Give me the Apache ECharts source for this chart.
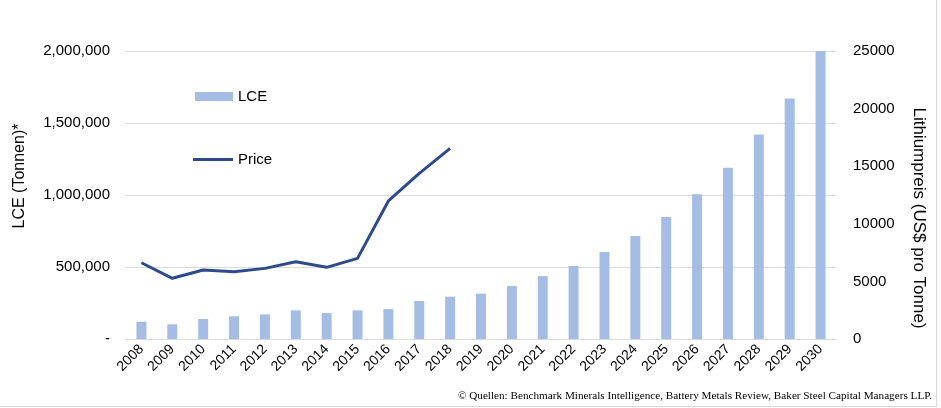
<!DOCTYPE html>
<html><head><meta charset="utf-8">
<script src="https://cdn.jsdelivr.net/npm/echarts@6/dist/echarts.min.js"></script>
<style>html,body{margin:0;padding:0;background:#fff}#c{width:941px;height:408px}</style>
</head><body><div id="c"></div>
<script>
const years = ['2008','2009','2010','2011','2012','2013','2014','2015','2016','2017','2018','2019','2020','2021','2022','2023','2024','2025','2026','2027','2028','2029','2030'];
const lce = [120000,102000,139000,158000,171000,199000,180000,199000,208000,264000,294000,315000,368000,437000,507000,604000,715000,847000,1005000,1190000,1420000,1670000,2000000];
const price = [6620,5270,5990,5840,6130,6710,6220,7000,11980,14380,16550];
const leftTicks = {min:0,max:2000000,interval:500000};
const rightTicks = {min:0,max:25000,interval:5000};
const chart = echarts.init(document.getElementById('c'));
const font = 'Liberation Sans';
const legendText = {fontFamily:font,fontSize:15,color:'#000'};
chart.setOption({
  animation:false,
  backgroundColor:'#fff',
  grid:{left:126,right:105,top:51,bottom:69},
  legend:[
    {left:190,top:84,itemWidth:38,itemHeight:9,itemGap:0,icon:'rect',textStyle:legendText,data:['LCE']},
    {left:188,top:147,itemWidth:40,itemHeight:3,itemGap:0,icon:'rect',textStyle:legendText,data:['Price']}
  ],
  xAxis:{type:'category',data:years,
    axisLine:{lineStyle:{color:'#D9D9D9'}},axisTick:{show:false},
    axisLabel:{rotate:45,interval:0,fontFamily:font,fontSize:14,color:'#000',margin:8}},
  yAxis:[
    {type:'value',min:leftTicks.min,max:leftTicks.max,interval:leftTicks.interval,
     axisLine:{show:false},axisTick:{show:false},
     splitLine:{lineStyle:{color:'#D9D9D9',width:1}},
     axisLabel:{fontFamily:font,fontSize:15,color:'#000',margin:16,
       formatter:v=>v===0?'-':v.toLocaleString('en-US')}},
    {type:'value',min:rightTicks.min,max:rightTicks.max,interval:rightTicks.interval,
     axisLine:{show:false},axisTick:{show:false},splitLine:{show:false},
     axisLabel:{fontFamily:font,fontSize:15,color:'#000',margin:17,formatter:v=>String(v)}}
  ],
  series:[
    {name:'LCE',type:'bar',data:lce,yAxisIndex:0,barWidth:10,itemStyle:{color:'#A5BDE4'}},
    {name:'Price',type:'line',data:price,yAxisIndex:1,symbol:'none',
     lineStyle:{color:'#2F4A8B',width:3},itemStyle:{color:'#2F4A8B'}}
  ],
  graphic:[
    {type:'text',x:20,y:176,rotation:Math.PI/2,style:{text:'LCE (Tonnen)*',fontFamily:font,fontSize:16,fill:'#000',align:'center',verticalAlign:'middle'}},
    {type:'text',x:919,y:218,rotation:-Math.PI/2,style:{text:'Lithiumpreis (US$ pro Tonne)',fontFamily:font,fontSize:17,fill:'#000',align:'center',verticalAlign:'middle'}},
    {type:'text',right:9,top:391,style:{text:'© Quellen: Benchmark Minerals Intelligence, Battery Metals Review, Baker Steel Capital Managers LLP.',fontFamily:'Liberation Serif',fontSize:11.2,fill:'#000'}},
    {type:'line',shape:{x1:936.5,y1:0,x2:936.5,y2:406},style:{stroke:'#D9D9D9',lineWidth:1}},
    {type:'line',shape:{x1:0,y1:406.5,x2:937,y2:406.5},style:{stroke:'#D9D9D9',lineWidth:1}}
  ]
});
</script></body></html>
